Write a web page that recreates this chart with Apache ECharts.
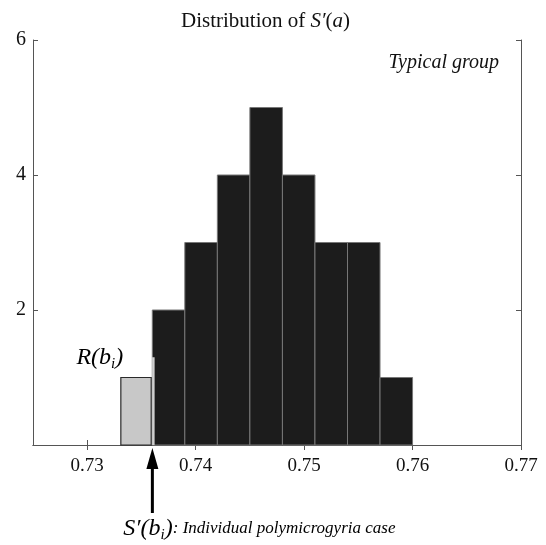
<!DOCTYPE html>
<html>
<head>
<meta charset="utf-8">
<script src="https://cdn.jsdelivr.net/npm/echarts@6/dist/echarts.min.js"></script>
<style>
  html, body {margin:0;padding:0;background:#fff;}
  #chart {width:546px;height:545px;}
</style>
</head>
<body>
<div id="chart"></div>
<script>
    // histogram of the typical group
    var binStarts = [0.736, 0.739, 0.742, 0.745, 0.748, 0.751, 0.754, 0.757];
    var binEnds = [0.739, 0.742, 0.745, 0.748, 0.751, 0.754, 0.757, 0.760];
    var counts = [2, 3, 4, 5, 4, 3, 3, 1];
    // individual case
    var caseBin = [0.7331, 0.7359];
    var caseCount = 1;
    var caseValue = 0.7361;
    var caseMarkHeight = 1.3;
    // axes
    var xTicks = [0.73, 0.74, 0.75, 0.76, 0.77];
    var yTicks = [2, 4, 6];

    var serif = '"Liberation Serif", "DejaVu Serif", serif';
    var frameColor = '#555';

    var chart = echarts.init(document.getElementById('chart'));

    var histData = binStarts.map(function (s, i) {
        return [s, binEnds[i], counts[i]];
    });

    var option = {
        animation: false,
        backgroundColor: '#fff',
        title: {
            text: '{n|Distribution of }{i|S′}{n|(}{i|a}{n|)}',
            left: 176,
            top: 6,
            textStyle: {
                rich: {
                    n: {fontFamily: serif, fontSize: 21, fontWeight: 'normal', color: '#111'},
                    i: {fontFamily: serif, fontSize: 21, fontWeight: 'normal', fontStyle: 'italic', color: '#111'}
                }
            }
        },
        grid: {left: 33, right: 25, top: 40, bottom: 100},
        xAxis: [{
            type: 'value',
            min: 0.725,
            max: 0.77,
            position: 'bottom',
            splitLine: {show: false},
            axisLine: {lineStyle: {color: frameColor}},
            axisTick: {inside: true, length: 5, customValues: xTicks, lineStyle: {color: frameColor}},
            axisLabel: {
                customValues: xTicks,
                margin: 12,
                fontFamily: serif,
                fontSize: 19,
                color: '#111',
                formatter: function (v) { return v.toFixed(2); }
            }
        }, {
            type: 'value',
            min: 0.725,
            max: 0.77,
            position: 'top',
            splitLine: {show: false},
            axisLine: {lineStyle: {color: frameColor}},
            axisTick: {inside: true, length: 5, customValues: xTicks, lineStyle: {color: frameColor}},
            axisLabel: {show: false}
        }],
        yAxis: [{
            type: 'value',
            min: 0,
            max: 6,
            interval: 2,
            position: 'left',
            splitLine: {show: false},
            axisLine: {show: true, lineStyle: {color: frameColor}},
            axisTick: {show: true, inside: true, length: 5, lineStyle: {color: frameColor}},
            axisLabel: {
                margin: 7,
                fontFamily: serif,
                fontSize: 20,
                color: '#111',
                formatter: function (v) { return yTicks.indexOf(v) >= 0 ? String(v) : ''; }
            }
        }, {
            type: 'value',
            min: 0,
            max: 6,
            interval: 2,
            position: 'right',
            splitLine: {show: false},
            axisLine: {show: true, lineStyle: {color: frameColor}},
            axisTick: {show: true, inside: true, length: 5, lineStyle: {color: frameColor}},
            axisLabel: {show: false}
        }],
        graphic: [{
            type: 'text',
            right: 47,
            top: 53,
            style: {
                text: 'Typical group',
                font: 'italic 20px ' + serif,
                fill: '#111'
            }
        }],
        series: [{
            type: 'custom',
            name: 'typical',
            data: histData,
            encode: {x: [0, 1], y: 2},
            renderItem: function (params, api) {
                var p0 = api.coord([api.value(0), api.value(2)]);
                var p1 = api.coord([api.value(1), 0]);
                return {
                    type: 'rect',
                    shape: {x: p0[0], y: p0[1], width: p1[0] - p0[0], height: p1[1] - p0[1]},
                    style: {fill: '#1c1c1c', stroke: '#777', lineWidth: 1}
                };
            }
        }, {
            type: 'custom',
            name: 'case',
            data: [[caseBin[0], caseBin[1], caseCount, caseValue, caseMarkHeight]],
            encode: {x: [0, 1], y: 2},
            clip: false,
            z: 3,
            renderItem: function (params, api) {
                var p0 = api.coord([api.value(0), api.value(2)]);
                var p1 = api.coord([api.value(1), 0]);
                var m0 = api.coord([api.value(3), api.value(4)]);
                var m1 = api.coord([api.value(3), 0]);
                var ax = m1[0] - 1;
                var y0 = m1[1];
                return {
                    type: 'group',
                    children: [{
                        type: 'rect',
                        shape: {x: p0[0], y: p0[1], width: p1[0] - p0[0], height: p1[1] - p0[1]},
                        style: {fill: '#c8c8c8', stroke: '#2a2a2a', lineWidth: 1.2}
                    }, {
                        type: 'line',
                        shape: {x1: m0[0], y1: m0[1], x2: m1[0], y2: m1[1]},
                        style: {stroke: '#cfcfcf', lineWidth: 2.5}
                    }, {
                        type: 'text',
                        x: p0[0] - 21,
                        y: p0[1] - 20,
                        style: {
                            text: '{m|R(b}{s|i}{m|)}',
                            align: 'center',
                            verticalAlign: 'middle',
                            rich: {
                                m: {fontFamily: serif, fontSize: 24, fontStyle: 'italic', color: '#111', lineHeight: 28},
                                s: {fontFamily: serif, fontSize: 15, fontStyle: 'italic', color: '#111', lineHeight: 12, verticalAlign: 'bottom'}
                            }
                        }
                    }, {
                        type: 'line',
                        shape: {x1: ax, y1: y0 + 18, x2: ax, y2: y0 + 68},
                        style: {stroke: '#000', lineWidth: 3}
                    }, {
                        type: 'polygon',
                        shape: {points: [[ax, y0 + 3], [ax - 6, y0 + 24], [ax + 6, y0 + 24]]},
                        style: {fill: '#000'}
                    }, {
                        type: 'text',
                        x: ax - 29,
                        y: y0 + 84,
                        style: {
                            text: '{m|S′(b}{s|i}{m|)}{c|: Individual polymicrogyria case}',
                            align: 'left',
                            verticalAlign: 'middle',
                            rich: {
                                m: {fontFamily: serif, fontSize: 24, fontStyle: 'italic', color: '#111', lineHeight: 28},
                                s: {fontFamily: serif, fontSize: 15, fontStyle: 'italic', color: '#111', lineHeight: 12, verticalAlign: 'bottom'},
                                c: {fontFamily: serif, fontSize: 17, fontStyle: 'italic', color: '#111', lineHeight: 28}
                            }
                        }
                    }]
                };
            }
        }]
    };
    chart.setOption(option);
</script>
</body>
</html>
